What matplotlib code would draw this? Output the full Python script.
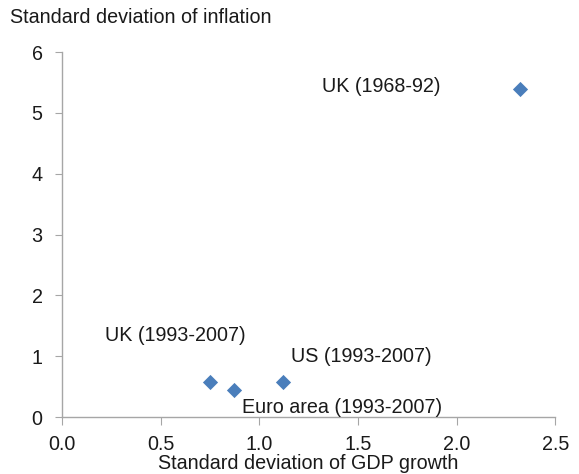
import matplotlib
matplotlib.use("Agg")
import matplotlib.pyplot as plt

plt.rcParams['font.family'] = ['Liberation Sans', 'DejaVu Sans']

labels = ["UK (1968-92)", "UK (1993-2007)", "Euro area (1993-2007)", "US (1993-2007)"]
gdp_sd = [2.32, 0.75, 0.87, 1.12]
infl_sd = [5.4, 0.57, 0.44, 0.57]
label_pos = [(1.32, 5.43), (0.22, 1.34), (0.91, 0.16), (1.16, 1.0)]

xticks = [0.0, 0.5, 1.0, 1.5, 2.0, 2.5]
yticks = [0, 1, 2, 3, 4, 5, 6]

FS = 14.2
fig = plt.figure(figsize=(5.79, 4.74), dpi=100)
ax = fig.add_axes([0.107, 0.120, 0.852, 0.770])
ax.scatter(gdp_sd, infl_sd, marker='D', s=60, color='#4a7ebb', zorder=3, linewidths=0)
for lab, (tx, ty) in zip(labels, label_pos):
    ax.text(tx, ty, lab, fontsize=FS, color='#1a1a1a', va='center', ha='left')

ax.set_xlim(0, 2.5)
ax.set_ylim(0, 6)
ax.set_xticks(xticks)
ax.set_xticklabels([f"{v:.1f}" for v in xticks])
ax.set_yticks(yticks)
ax.set_yticklabels([str(v) for v in yticks])
for s in ['top', 'right']:
    ax.spines[s].set_visible(False)
for s in ['left', 'bottom']:
    ax.spines[s].set_color('#a6a6a6')
    ax.spines[s].set_linewidth(1.0)
ax.tick_params(axis='both', colors='#a6a6a6', labelcolor='#1a1a1a', labelsize=FS, direction='out')
ax.tick_params(axis='x', length=6, pad=7)
ax.tick_params(axis='y', length=5, pad=9)
ax.set_xlabel("Standard deviation of GDP growth", fontsize=FS, color='#1a1a1a', labelpad=0)
fig.text(0.017, 0.983, "Standard deviation of inflation", fontsize=FS, color='#1a1a1a', va='top', ha='left')

fig.savefig("out.png", dpi=100)
